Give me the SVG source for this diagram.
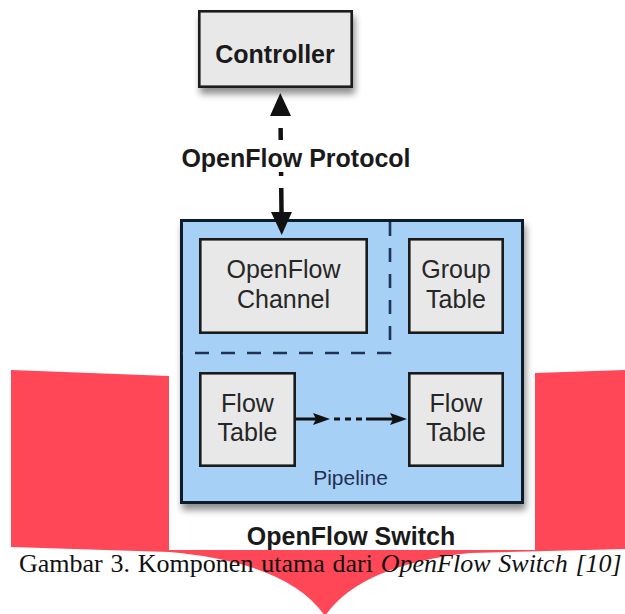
<svg xmlns="http://www.w3.org/2000/svg" width="625" height="614" viewBox="0 0 625 614">
  <style>
    .box { fill: #e8e8e8; stroke: #1b1b1b; stroke-width: 2.6; }
    .switch { fill: #a7d0f6; stroke: #0f1b2b; stroke-width: 3; }
    .divider { fill: none; stroke: #1d3454; stroke-width: 2.6; stroke-dasharray: 14 12; }
    .lbl { font-family: "Liberation Sans", Arial, sans-serif; font-size: 25px; fill: #262626; text-anchor: middle; }
    .bold { font-family: "Liberation Sans", Arial, sans-serif; font-size: 25px; font-weight: bold; fill: #1a1a1a; text-anchor: middle; }
    .pipe { font-family: "Liberation Sans", Arial, sans-serif; font-size: 21px; fill: #1e3252; text-anchor: middle; }
    .caption { font-family: "Liberation Serif", "Times New Roman", serif; font-size: 26px; word-spacing: 1.3px; fill: #111; }
    .link { fill: none; stroke: #111; }
  </style>
  <defs>
    <filter id="shadow" x="-10%" y="-10%" width="125%" height="130%">
      <feGaussianBlur in="SourceAlpha" stdDeviation="3.5"/>
      <feOffset dx="2" dy="6" result="blur"/>
      <feComponentTransfer><feFuncA type="linear" slope="0.45"/></feComponentTransfer>
      <feMerge><feMergeNode/><feMergeNode in="SourceGraphic"/></feMerge>
    </filter>
    <marker id="tri" viewBox="0 -12 24 24" refX="0" refY="0" markerWidth="24" markerHeight="24" markerUnits="userSpaceOnUse" orient="auto-start-reverse">
      <path d="M0,-10.5 L23,0 L0,10.5 Z" fill="#111"/>
    </marker>
    <marker id="barb" viewBox="-1 -7 19 14" refX="3" refY="0" markerWidth="19" markerHeight="14" markerUnits="userSpaceOnUse" orient="auto">
      <path d="M0,-6 L17,0 L0,6 L3,0 Z" fill="#111"/>
    </marker>
  </defs>

  <!-- red backdrop arrow -->
  <path d="M11,370 L169,376 L535,373 L625,370 L625,549 L470,553 Q360,565 325,616 Q290,565 180,553 L169,552 L11,547 Z" fill="#ff4757"/>
  <!-- figure panel -->
  <rect x="169" y="0" width="366" height="550" fill="#ffffff"/>

  <g id="controller">
    <rect class="box" x="199.3" y="11.3" width="152.4" height="75.4" filter="url(#shadow)"/>
    <text class="bold" x="275" y="63">Controller</text>
  </g>

  <g id="openflow-switch">
    <rect class="switch" x="181.5" y="220.5" width="341" height="282" filter="url(#shadow)"/>
    <path class="divider" d="M390,222 L390,353 L182,353"/>
    <text class="pipe" x="350.5" y="485">Pipeline</text>
    <text class="bold" x="351" y="545">OpenFlow Switch</text>
  </g>

  <g id="openflow-channel">
    <rect class="box" x="200.3" y="239.3" width="166.4" height="93.4"/>
    <text class="lbl" x="283.5" y="278">OpenFlow</text>
    <text class="lbl" x="283.5" y="307.5">Channel</text>
  </g>

  <g id="group-table">
    <rect class="box" x="409.3" y="239.3" width="93.4" height="93.4"/>
    <text class="lbl" x="456" y="278">Group</text>
    <text class="lbl" x="456" y="307.5">Table</text>
  </g>

  <g id="flow-table-1">
    <rect class="box" x="200.3" y="373.3" width="94.4" height="92.4"/>
    <text class="lbl" x="247.5" y="411.5">Flow</text>
    <text class="lbl" x="247.5" y="440.5">Table</text>
  </g>

  <g id="flow-table-n">
    <rect class="box" x="409.3" y="373.3" width="93.4" height="92.4"/>
    <text class="lbl" x="456" y="411.5">Flow</text>
    <text class="lbl" x="456" y="440.5">Table</text>
  </g>

  <g id="connectors">
    <!-- controller <-> channel, dashed with label gap -->
    <path class="link" d="M280.5,116 L281.5,212" stroke-width="4.5" stroke-dasharray="0 12 12 32 4 12 26 0" marker-start="url(#tri)" marker-end="url(#tri)"/>
    <text class="bold" x="296" y="167">OpenFlow Protocol</text>
    <!-- pipeline: flow table -> ... -> flow table -->
    <path class="link" d="M296,419 L316,419" stroke-width="3" marker-end="url(#barb)"/>
    <path class="link" d="M334,419 L364,419" stroke-width="3" stroke-dasharray="6 5"/>
    <path class="link" d="M366,419 L393,419" stroke-width="3" marker-end="url(#barb)"/>
  </g>

  <text class="caption" x="19" y="572">Gambar 3. Komponen utama dari <tspan font-style="italic">OpenFlow Switch [10]</tspan></text>
</svg>
